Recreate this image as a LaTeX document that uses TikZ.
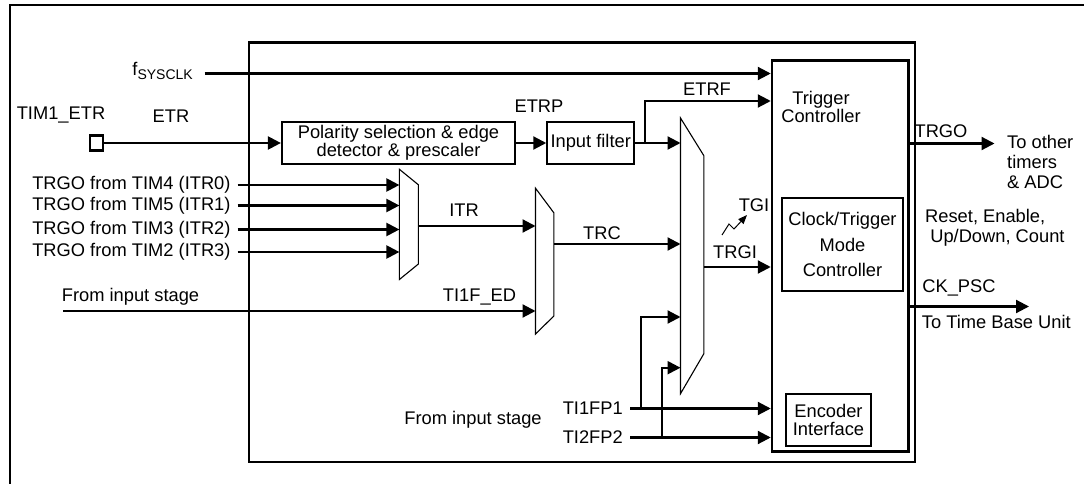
\documentclass[tikz,border=0pt]{standalone}
\usepackage{fontspec}
\setmainfont{Liberation Sans}
\usetikzlibrary{arrows.meta}

\begin{document}
\begin{tikzpicture}
[x=1pt,y=-1pt,
 every node/.style={inner sep=0pt,font=\fontsize{18.3}{20}\selectfont},
 wire/.style={line width=2.2pt,-{Triangle[length=13pt,width=13pt]}},
 bus/.style={line width=2.2pt},
 box/.style={draw,line width=2.2pt,align=center},
 mux/.style={draw,line width=1.1pt}
]
\useasboundingbox (0,0) rectangle (1084,484);

% frames
\draw[bus] (10,484) -- (10,5) -- (1084,5);
\draw[bus] (248.6,42.5) rectangle (915,462);

% blocks
\node[draw,line width=2.2pt,minimum width=13pt,minimum height=15pt] (pad) at (96.5,143) {};
\node[box,minimum width=233pt,minimum height=41.5pt,font=\fontsize{18.3}{17}\selectfont] (pol) at (398.5,143) {Polarity selection \& edge\\detector \& prescaler};
\node[box,minimum width=86.7pt,minimum height=41.5pt] (filt) at (590.7,143) {Input filter};
\node[box,minimum width=136.7pt,minimum height=391pt] (trig) at (840.2,256) {};
\node[align=center,font=\fontsize{18.3}{17}\selectfont] (trigtxt) at (821,107) {Trigger\\Controller};
\node[box,minimum width=121.5pt,minimum height=92.7pt,font=\fontsize{18.3}{25.5}\selectfont] (clk) at (842.5,244.7) {Clock/Trigger\\Mode\\Controller};
\node[box,minimum width=85.7pt,minimum height=52pt,font=\fontsize{18.3}{18}\selectfont] (enc) at (828.5,419.7) {Encoder\\Interface};

% multiplexers
\coordinate (s1) at (399.4,169.3); \coordinate (s2) at (418.4,184.8);
\coordinate (s3) at (418.4,264);   \coordinate (s4) at (399.4,279.5);
\draw[mux] (s1) -- (s2) -- (s3) -- (s4) -- cycle;
\coordinate (c1) at (535.5,188.2); \coordinate (c2) at (553.9,212.9);
\coordinate (c3) at (553.9,316);   \coordinate (c4) at (535.5,334);
\draw[mux] (c1) -- (c2) -- (c3) -- (c4) -- cycle;
\coordinate (t1) at (680.5,118);   \coordinate (t2) at (703.8,155.6);
\coordinate (t3) at (703.8,353.8); \coordinate (t4) at (680.5,393.7);
\draw[mux] (t1) -- (t2) -- (t3) -- (t4) -- cycle;

% clock and external trigger
\node[anchor=base east] (fsyslbl) at (193,76) {f\raisebox{-4pt}{\fontsize{14}{14}\selectfont SYSCLK}};
\coordinate (fsys) at (204.5,73.5);
\draw[wire] (fsys) -- (fsys -| trig.west);
\node (etrpin) at (61,115) {TIM1\_ETR};
\node (etrlbl) at (171,116) {ETR};
\draw[wire] (pad) -- (pol);
\draw[wire] (pol) -- (filt);
\node (etrplbl) at (539,106.5) {ETRP};
\draw[wire] (filt.east) -- (filt.east -| t1);
\coordinate (etrf) at (645,143);
\coordinate (etrfup) at (645,101);
\draw[wire] (etrf) -- (etrfup) -- (etrfup -| trig.west);
\node (etrflbl) at (707,89) {ETRF};

% internal triggers
\foreach \y/\n/\i in {185/4/0, 205.5/5/1, 229.5/3/2, 252/2/3} {
  \node[anchor=east] (itr\i) at (230.7,\y) {TRGO from TIM\n\ (ITR\i)};
  \draw[wire] ([xshift=7pt]itr\i.east) -- (itr\i.east -| s1);
}
\coordinate (itr) at (418.4,226);
\draw[wire] (itr) -- (itr -| c1);
\node (itrlbl) at (464,210) {ITR};
\node (fromin1) at (130.5,297) {From input stage};
\node (edlbl) at (479.5,297) {TI1F\_ED};
\coordinate (ti1fed) at (63,311);
\draw[wire] (ti1fed) -- (ti1fed -| c1);
\coordinate (trc) at (553.9,244);
\draw[wire] (trc) -- (trc -| t1);
\node (trclbl) at (602,233) {TRC};

% TRGI
\coordinate (trgi) at (703.8,267);
\draw[wire] (trgi) -- (trgi -| trig.west);
\node (trgilbl) at (735,252) {TRGI};
\node (tgilbl) at (754,205) {TGI};
\draw[line width=1pt,-{Triangle[length=9pt,width=7pt]}] (722,235) -- (729,224) -- (734,229) -- (747,215);

% encoder inputs
\node (fromin2) at (473,420) {From input stage};
\node[anchor=east] (tifp1) at (623,408.5) {TI1FP1};
\node[anchor=east] (tifp2) at (623,437.5) {TI2FP2};
\draw[wire] ([xshift=7pt]tifp1.east) -- (tifp1.east -| trig.west);
\draw[wire] ([xshift=7pt]tifp2.east) -- (tifp2.east -| trig.west);
\coordinate (br1) at (640.6,317);
\coordinate (br2) at (662,367.7);
\draw[wire] (br1 |- tifp1.east) -- (br1) -- (br1 -| t1);
\draw[wire] (br2 |- tifp2.east) -- (br2) -- (br2 -| t1);

% outputs
\coordinate (trgo) at (994.5,143.5);
\draw[wire] (trig.east |- trgo) -- (trgo);
\node (trgolbl) at (941,131) {TRGO};
\node[anchor=west,align=left] (trgoto) at (1007,161.5) {To other\\timers\\\& ADC};
\node[anchor=west,align=left] (ctrl) at (925,228) {Reset, Enable,\\\ Up/Down, Count};
\coordinate (ckpsc) at (1029,306.5);
\draw[wire] (trig.east |- ckpsc) -- (ckpsc);
\node (cklbl) at (959,288) {CK\_PSC};
\node[anchor=west] (tbu) at (921.7,322) {To Time Base Unit};

\end{tikzpicture}
\end{document}
